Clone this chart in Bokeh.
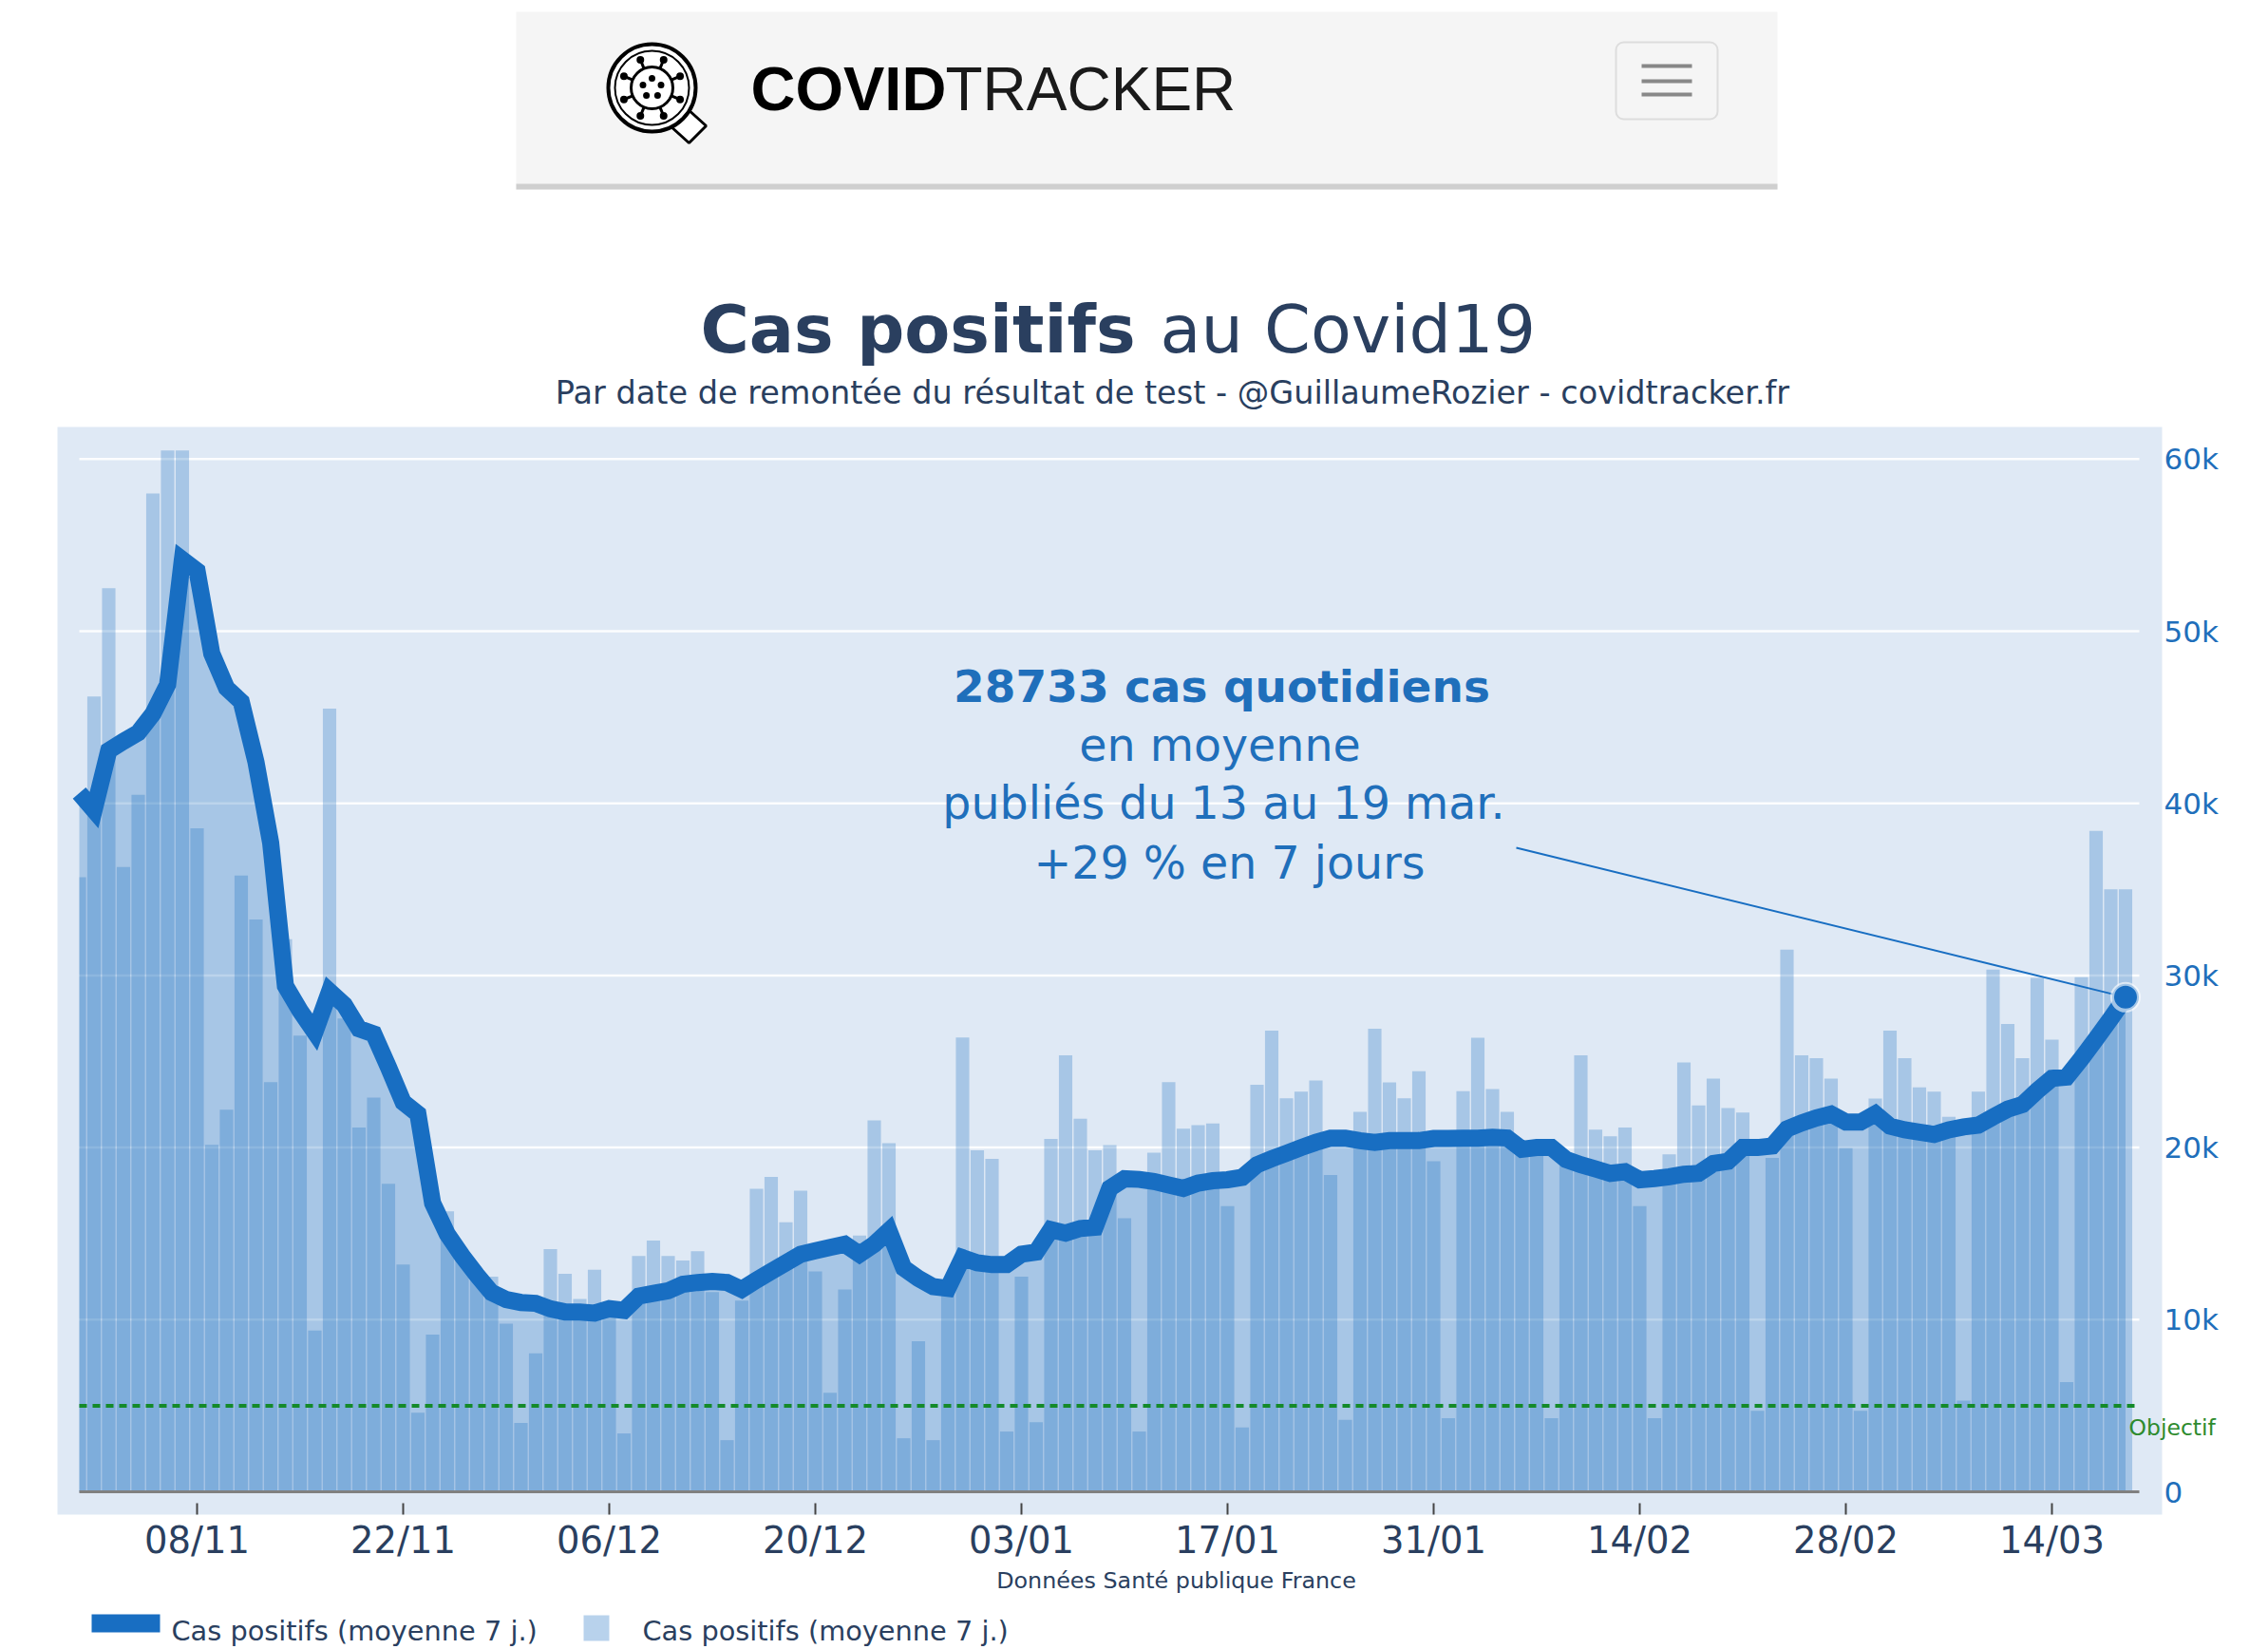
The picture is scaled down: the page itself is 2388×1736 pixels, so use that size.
import numpy as np
from bokeh.plotting import figure
from bokeh.layouts import column
from bokeh.models import Range1d, FixedTicker, Label
from bokeh.core.properties import value
from bokeh.embed import file_html
from bokeh.resources import INLINE

tick_days = [8, 22, 36, 50, 64, 78, 92, 106, 120, 134]
tick_dates = ["08/11", "22/11", "06/12", "20/12", "03/01", "17/01", "31/01", "14/02", "28/02", "14/03"]
y_ticks = [0, 10000, 20000, 30000, 40000, 50000, 60000]
y_tick_labels = ["0", "10k", "20k", "30k", "40k", "50k", "60k"]
objectif = 5000

# Daily positive cases (bars), thousands, 31/10 -> 19/03
daily_k = [
    35.7, 46.2, 52.5, 36.3, 40.5, 58.0, 60.5, 60.5, 38.55, 20.16,
    22.2, 35.8, 33.25, 23.8, 32.1, 26.5, 9.37, 45.5, 27.5, 21.17,
    22.9, 17.9, 13.2, 4.6, 9.14, 16.3, 14.0, 12.8, 12.5, 9.77,
    4.0, 8.04, 14.1, 12.66, 11.2, 12.9, 10.3, 3.39, 13.7, 14.6,
    13.7, 13.44, 13.97, 11.6, 3.0, 11.1, 17.6, 18.3, 15.66, 17.5,
    12.8, 5.75, 11.76, 14.88, 21.58, 20.26, 3.11, 8.75, 3.0, 12.0,
    26.4, 19.84, 19.35, 3.5, 12.5, 4.04, 20.5, 25.36, 21.67, 19.84,
    20.14, 15.9, 3.5, 19.7, 23.8, 21.1, 21.3, 21.4, 16.6, 3.74,
    23.65, 26.8, 22.86, 23.25, 23.9, 18.4, 4.18, 22.07, 26.9, 23.78,
    22.86, 24.43, 19.2, 4.28, 23.27, 26.38, 23.4, 22.07, 19.8, 19.6,
    4.28, 19.2, 25.36, 21.04, 20.65, 21.16, 16.6, 4.28, 19.6, 24.95,
    22.45, 24.0, 22.3, 22.04, 4.7, 19.4, 31.5, 25.36, 25.2, 24.0,
    19.96, 4.7, 22.85, 26.8, 25.2, 23.5, 23.25, 21.78, 5.3, 23.25,
    30.34, 27.18, 25.2, 29.86, 26.27, 6.37, 29.9, 38.4, 35.0, 35.0,
]
# 7-day average (line), thousands
moyenne_k = [
    40.6, 39.6, 43.06, 43.6, 44.1, 45.2, 46.9, 54.15, 53.5, 48.7,
    46.7, 45.9, 42.4, 37.7, 29.4, 27.95, 26.7, 29.07, 28.3, 26.9,
    26.6, 24.67, 22.64, 21.96, 16.77, 14.97, 13.72, 12.6, 11.58, 11.17,
    11.0, 10.95, 10.63, 10.45, 10.44, 10.38, 10.64, 10.54, 11.37, 11.53,
    11.68, 12.06, 12.16, 12.22, 12.16, 11.76, 12.3, 12.8, 13.3, 13.8,
    14.0, 14.2, 14.38, 13.8, 14.38, 15.17, 13.0, 12.4, 11.92, 11.82,
    13.6, 13.3, 13.2, 13.2, 13.8, 13.93, 15.23, 15.03, 15.3, 15.37,
    17.63, 18.19, 18.15, 18.03, 17.83, 17.63, 17.93, 18.07, 18.13, 18.27,
    19.0, 19.35, 19.67, 20.0, 20.3, 20.55, 20.55, 20.4, 20.3, 20.4,
    20.4, 20.4, 20.53, 20.53, 20.55, 20.55, 20.6, 20.55, 19.9, 20.0,
    20.0, 19.3, 19.0, 18.76, 18.5, 18.6, 18.13, 18.2, 18.3, 18.45,
    18.5, 19.07, 19.2, 20.0, 20.0, 20.09, 21.08, 21.43, 21.72, 21.94,
    21.48, 21.48, 21.96, 21.24, 21.03, 20.9, 20.76, 21.03, 21.2, 21.3,
    21.78, 22.23, 22.5, 23.3, 24.02, 24.1, 25.17, 26.32, 27.5, 28.733,
]
annotation_lines = ["28733 cas quotidiens", "en moyenne", "publiés du 13 au 19 mar.", "+29 % en 7 jours"]
series_name = "Cas positifs (moyenne 7 j.)"

DEJAVU = value("DejaVu Sans")
NAVY = "#2a3f5f"
BLUE = "#186ec2"
TEXT_BLUE = "#1f6fbb"
OVER = "#146bc0"
ALPHA = 0.28
BG = "#dfe9f5"


# Page pixels -> data values
def ix(px):
    return (px - 83.0) / 15.5


def val(py):
    return (1570 - py) / 181.2 * 10000


# ------------- header -------------
h = figure(width=2388, height=449, x_range=Range1d(60, 2276), y_range=Range1d(449, 0),
           output_backend="svg", toolbar_location=None, x_axis_location=None, y_axis_location=None,
           min_border_left=60, min_border_right=112, min_border_top=0, min_border_bottom=0,
           outline_line_color=None, background_fill_color="white", border_fill_color="white")
h.grid.visible = False
h.quad(left=[543], right=[1871], top=[12], bottom=[199], fill_color="#f5f5f5", line_color=None)
h.quad(left=[543], right=[1871], top=[193], bottom=[199], fill_color="#cfcfcf", line_color=None)
h.quad(left=[1701], right=[1808], top=[44], bottom=[125], fill_color="#f5f5f5", line_color="#dddddd",
       line_width=2, border_radius=8)
h.quad(left=[1728] * 3, right=[1781] * 3, top=[67, 83, 97], bottom=[71, 87, 101], fill_color="#888888", line_color=None)
# logo
cx, cy = 686, 92
h.patch([722, 743, 725, 704], [113, 132, 150, 131], fill_color="white", line_color="black", line_width=3)
h.circle([cx], [cy], radius=[46], fill_color="white", line_color="black", line_width=4)
h.circle([cx], [cy], radius=[39], fill_color=None, line_color="black", line_width=2)
h.circle([cx], [cy], radius=[22], fill_color=None, line_color="black", line_width=3)
ang = np.arange(8) * np.pi / 4 + np.pi / 8
h.segment(cx + 22 * np.cos(ang), cy + 22 * np.sin(ang), cx + 32 * np.cos(ang), cy + 32 * np.sin(ang),
          line_color="black", line_width=3)
h.circle(cx + 32 * np.cos(ang), cy + 32 * np.sin(ang), radius=4, fill_color="black", line_color=None)
ang2 = np.arange(5) * 2 * np.pi / 5 - np.pi / 2
h.circle(cx + 10 * np.cos(ang2), cy + 10 * np.sin(ang2), radius=3.5, fill_color="black", line_color=None)
h.text([790], [93], text=["COVID"], text_font=value("Liberation Sans"), text_font_style="bold",
       text_font_size="65px", text_color="black", text_baseline="alphabetic")
h.text([995], [93], text=["TRACKER"], text_font=value("Liberation Sans"),
       text_font_size="64px", text_color="#1a1a1a", text_baseline="alphabetic")
# title
h.text([737], [346], text=["Cas positifs"], text_font=DEJAVU, text_font_style="bold", text_font_size="70px",
       text_color=NAVY, text_baseline="alphabetic")
h.text([1221], [346], text=["au Covid19"], text_font=DEJAVU, text_font_size="70px",
       text_color=NAVY, text_baseline="alphabetic")
h.text([1234], [412.5], text=["Par date de remontée du résultat de test - @GuillaumeRozier - covidtracker.fr"],
       text_font=DEJAVU, text_font_size="33.5px", text_color=NAVY, text_align="center", text_baseline="alphabetic")

# ------------- chart -------------
days = np.arange(len(daily_k))
daily = np.array(daily_k) * 1000
moyenne = np.array(moyenne_k) * 1000
x_end = ix(2252)

p = figure(width=2388, height=1257, x_range=Range1d(ix(60), ix(2276)), y_range=Range1d(val(1594), val(449)),
           output_backend="svg", toolbar_location=None, y_axis_location="right",
           min_border_left=60, min_border_right=112, min_border_top=0, min_border_bottom=112,
           outline_line_color=None, background_fill_color=BG, border_fill_color="white")
p.grid.visible = False

p.segment(x0=[0] * (len(y_ticks) - 1), x1=[x_end] * (len(y_ticks) - 1), y0=y_ticks[1:], y1=y_ticks[1:],
          line_color="white", line_width=2.5, line_alpha=0.9)
p.varea(x=days, y1=np.zeros(len(days)), y2=moyenne, fill_color=OVER, fill_alpha=ALPHA)
p.quad(left=np.maximum(days - 0.455, 0), right=days + 0.455, bottom=np.zeros(len(days)), top=daily,
       fill_color=OVER, fill_alpha=ALPHA, line_color=None)
p.segment(x0=[0], x1=[x_end], y0=[0], y1=[0], line_color="#808080", line_width=3)
p.segment(x0=[0], x1=[x_end], y0=[objectif], y1=[objectif], line_color="#148a2a", line_width=4, line_dash="8 6")
p.line(days, moyenne, line_color=BLUE, line_width=18, line_join="miter")
p.segment(x0=[ix(1596)], x1=[days[-1]], y0=[val(892)], y1=[moyenne[-1]], line_color=BLUE, line_width=2)
p.scatter([days[-1]], [moyenne[-1]], size=28, fill_color=BLUE, line_color="white", line_width=4, line_alpha=0.6)

ann_y = [722, 784, 845, 908]
ann_x = [1286, 1284, 1288, 1294]
p.text([ix(ann_x[0])], [val(ann_y[0])], text=[annotation_lines[0]], text_font=DEJAVU, text_font_style="bold",
       text_font_size="47px", text_color=TEXT_BLUE, text_align="center", text_baseline="middle")
p.text([ix(v) for v in ann_x[1:]], [val(v) for v in ann_y[1:]], text=annotation_lines[1:], text_font=DEJAVU,
       text_font_size="47.5px", text_color=TEXT_BLUE, text_align="center", text_baseline="middle")

p.xaxis.ticker = FixedTicker(ticks=tick_days)
p.xaxis.major_label_overrides = dict(zip(tick_days, tick_dates))
p.xaxis.axis_line_color = None
p.xaxis.major_tick_in = 12
p.xaxis.major_tick_out = 0
p.xaxis.major_tick_line_color = "#444444"
p.xaxis.major_tick_line_width = 2
p.xaxis.minor_tick_line_color = None
p.xaxis.major_label_standoff = 4
p.xaxis.major_label_text_font = "DejaVu Sans"
p.xaxis.major_label_text_font_size = "38.5px"
p.xaxis.major_label_text_color = NAVY

p.yaxis.ticker = FixedTicker(ticks=y_ticks)
p.yaxis.major_label_overrides = dict(zip(y_ticks, y_tick_labels))
p.yaxis.axis_line_color = None
p.yaxis.major_tick_line_color = None
p.yaxis.minor_tick_line_color = None
p.yaxis.major_label_standoff = -4
p.yaxis.major_label_text_font = "DejaVu Sans"
p.yaxis.major_label_text_font_size = "31px"
p.yaxis.major_label_text_color = TEXT_BLUE

p.add_layout(Label(x=ix(1238), y=val(1663), text="Données Santé publique France", text_font="DejaVu Sans",
                   text_font_size="23.8px", text_color=NAVY, text_align="center", text_baseline="middle"), "below")
p.add_layout(Label(x=ix(2241), y=val(1502), text="Objectif", text_font="DejaVu Sans",
                   text_font_size="23.5px", text_color="#2e8b2e", text_align="left", text_baseline="middle"), "below")

# ------------- legend strip -------------
f = figure(width=2388, height=44, x_range=Range1d(60, 2276), y_range=Range1d(1736, 1692),
           output_backend="svg", toolbar_location=None, x_axis_location=None, y_axis_location=None,
           min_border_left=60, min_border_right=112, min_border_top=0, min_border_bottom=0,
           outline_line_color=None, background_fill_color="white", border_fill_color="white",
           margin=(-14, 0, 0, 0))
f.grid.visible = False
f.quad(left=[96], right=[168], top=[1699], bottom=[1718], fill_color=BLUE, line_color=None)
f.quad(left=[614], right=[641], top=[1700], bottom=[1727], fill_color=OVER, fill_alpha=0.3, line_color=None)
f.text([180, 676], [1716, 1716], text=[series_name, series_name], text_font=DEJAVU, text_font_size="28.8px",
       text_color=NAVY, text_baseline="middle")

layout = column(h, p, f, spacing=0)
open("out.html", "w").write(file_html(layout, INLINE))
